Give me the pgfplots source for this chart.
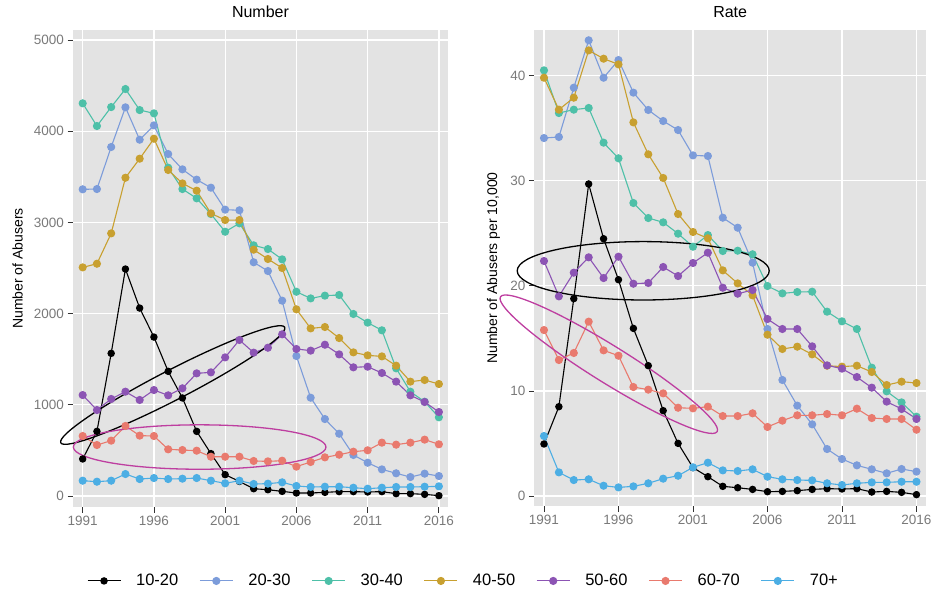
\documentclass[border=0pt]{standalone}
\usepackage{fontspec}
\setmainfont{Liberation Sans}
\usepackage{pgfplots}
\pgfplotsset{compat=1.18}
\usepackage{pgfplotstable}
\usetikzlibrary{shapes.geometric}

\definecolor{c1}{RGB}{0,0,0}
\definecolor{c2}{RGB}{124,156,218}
\definecolor{c3}{RGB}{78,192,168}
\definecolor{c4}{RGB}{200,160,48}
\definecolor{c5}{RGB}{140,84,180}
\definecolor{c6}{RGB}{233,122,110}
\definecolor{c7}{RGB}{76,174,228}
\definecolor{panel}{RGB}{227,227,227}
\definecolor{ell}{RGB}{190,62,160}

\pgfplotstableread{
year a b c d e f g
1991 406 3363 4306 2507 1107 658 168
1992 709 3366 4057 2547 943 559 157
1993 1564 3827 4265 2880 1064 607 168
1994 2489 4262 4463 3490 1144 768 241
1995 2061 3907 4232 3699 1053 662 186
1996 1743 4064 4196 3918 1162 658 197
1997 1367 3750 3600 3575 1104 512 186
1998 1075 3582 3366 3428 1181 504 190
1999 709 3469 3264 3348 1345 497 197
2000 465 3381 3092 3099 1356 431 168
2001 234 3140 2898 3026 1520 431 139
2002 160 3133 2990 3026 1711 431 168
2003 80 2563 2749 2701 1572 384 132
2004 69 2467 2708 2599 1626 380 135
2005 51 2142 2595 2500 1773 387 150
2006 33 1535 2240 2047 1612 322 110
2007 33 1078 2167 1838 1594 373 99
2008 40 844 2197 1853 1659 424 102
2009 48 683 2204 1732 1553 453 102
2010 48 450 1996 1575 1411 486 91
2011 44 365 1901 1542 1418 501 80
2012 48 292 1817 1531 1349 585 91
2013 26 249 1400 1429 1254 563 99
2014 26 208 1144 1254 1104 585 99
2015 18 245 1034 1272 1031 618 102
2016 4 219 863 1228 921 567 106
}\numtab

\pgfplotstableread{
year a b c d e f g
1991 4.95 34.06 40.50 39.80 22.36 15.79 5.71
1992 8.50 34.16 36.44 36.76 19.00 12.94 2.25
1993 18.78 38.85 36.76 37.90 21.25 13.61 1.52
1994 29.69 43.36 36.92 42.40 22.71 16.59 1.59
1995 24.48 39.80 33.62 41.61 20.74 13.86 0.98
1996 20.58 41.48 32.13 41.07 22.77 13.35 0.82
1997 15.95 38.38 27.88 35.55 20.20 10.37 0.92
1998 12.40 36.73 26.45 32.51 20.27 10.12 1.21
1999 8.12 35.68 26.04 30.26 21.79 9.77 1.65
2000 5.01 34.82 24.96 26.83 20.93 8.40 1.93
2001 2.70 32.41 23.72 25.12 22.17 8.34 2.73
2002 1.84 32.35 24.83 24.52 23.15 8.50 3.17
2003 0.92 26.48 23.31 21.47 19.82 7.61 2.44
2004 0.79 25.53 23.34 20.23 19.25 7.61 2.38
2005 0.63 22.20 23.00 19.09 19.60 7.87 2.54
2006 0.41 15.89 19.98 15.35 16.84 6.57 1.84
2007 0.44 11.04 19.28 13.99 15.89 7.17 1.59
2008 0.51 8.60 19.41 14.21 15.89 7.68 1.52
2009 0.63 6.82 19.44 13.48 14.24 7.68 1.49
2010 0.70 4.47 17.54 12.40 12.43 7.80 1.21
2011 0.67 3.52 16.62 12.31 12.12 7.68 1.05
2012 0.70 2.92 15.89 12.40 11.32 8.31 1.21
2013 0.38 2.54 12.21 11.80 10.31 7.42 1.30
2014 0.44 2.16 9.96 10.56 8.98 7.33 1.30
2015 0.35 2.57 8.91 10.88 8.28 7.33 1.36
2016 0.13 2.32 7.55 10.75 7.33 6.31 1.36
}\ratetab

\pgfplotsset{
  ggstyle/.style={
    scale only axis,
    clip=false,
    anchor=south west,
    axis background/.style={fill=panel},
    axis line style={draw=none},
    grid=major,
    major grid style={white, line width=1.3pt},
    tick align=outside,
    tick pos=left,
    major tick length=5.5pt,
    tick style={black!80, line width=0.8pt},
    ticklabel style={font=\fontsize{13.5}{15}\selectfont, text=black!52},
    /pgf/number format/assume math mode=true,
    /pgf/number format/1000 sep={},
    xtick={1991,1996,2001,2006,2011,2016},
    title style={font=\fontsize{16}{18}\selectfont, at={(0.5,1)}, anchor=base, yshift=6.7pt},
    every axis plot/.append style={line width=1.1pt, mark=*, mark size=3.5pt, solid},
    legend image code/.code={
      \draw[mark repeat=2,mark phase=2,##1] plot coordinates {(0pt,0pt) (16.5pt,0pt) (33pt,0pt)};
    },
  },
  s1/.style={color=c1, mark options={fill=c1, draw=c1, scale=0.9}},
  s2/.style={color=c2, mark options={fill=c2, draw=c2}},
  s3/.style={color=c3, mark options={fill=c3, draw=c3}},
  s4/.style={color=c4, mark options={fill=c4, draw=c4}},
  s5/.style={color=c5, mark options={fill=c5, draw=c5}},
  s6/.style={color=c6, mark options={fill=c6, draw=c6}},
  s7/.style={color=c7, mark options={fill=c7, draw=c7}},
}

\begin{document}
\begin{tikzpicture}
\path[use as bounding box] (0pt,0pt) rectangle (934pt,-596pt);

\begin{axis}[ggstyle,
  at={(73pt,-507pt)}, width=375pt, height=477pt,
  xmin=1990.32, xmax=2016.64, ymin=-120.6, ymax=5110,
  ytick={0,1000,2000,3000,4000,5000},
  title={Number},
  ylabel={Number of Abusers},
  every axis y label/.style={at={(axis description cs:-0.148,0.5)}, rotate=90, anchor=center, font=\fontsize{14}{16}\selectfont},
  legend columns=7,
  legend cell align=left,
  legend style={at={(axis description cs:0.0373,-0.155)}, anchor=west, draw=none, fill=none,
    inner sep=0pt, outer sep=0pt, font=\fontsize{16.5}{18}\selectfont,
    nodes={inner sep=0pt},
    /tikz/every odd column/.append style={column sep=15pt},
    /tikz/every even column/.append style={column sep=21pt}},
]
\addplot[s1] table[x=year,y=a] {\numtab};
\addplot[s2] table[x=year,y=b] {\numtab};
\addplot[s3] table[x=year,y=c] {\numtab};
\addplot[s4] table[x=year,y=d] {\numtab};
\addplot[s5] table[x=year,y=e] {\numtab};
\addplot[s6] table[x=year,y=f] {\numtab};
\addplot[s7] table[x=year,y=g] {\numtab};
\legend{10-20,20-30,30-40,40-50,50-60,60-70,70+}
\node[draw=black, line width=1.3pt, ellipse, inner sep=0pt, minimum width=252pt, minimum height=30pt, rotate=27.3] at (axis cs:1997.32,1217) {};
\node[draw=ell, line width=1.3pt, ellipse, inner sep=0pt, minimum width=252.6pt, minimum height=44.4pt] at (axis cs:1999.21,537) {};
\end{axis}

\begin{axis}[ggstyle,
  at={(534.3pt,-506pt)}, width=391.7pt, height=476pt,
  xmin=1990.35, xmax=2016.64, ymin=-0.95, ymax=44.34,
  ytick={0,10,20,30,40},
  title={Rate},
  ylabel={Number of Abusers per 10,000},
  every axis y label/.style={at={(axis description cs:-0.104,0.5)}, rotate=90, anchor=center, font=\fontsize{14}{16}\selectfont},
]
\addplot[s1] table[x=year,y=a] {\ratetab};
\addplot[s2] table[x=year,y=b] {\ratetab};
\addplot[s3] table[x=year,y=c] {\ratetab};
\addplot[s4] table[x=year,y=d] {\ratetab};
\addplot[s5] table[x=year,y=e] {\ratetab};
\addplot[s6] table[x=year,y=f] {\ratetab};
\addplot[s7] table[x=year,y=g] {\ratetab};
\node[draw=black, line width=1.3pt, ellipse, inner sep=0pt, minimum width=252pt, minimum height=58.4pt] at (axis cs:1997.66,21.43) {};
\node[draw=ell, line width=1.3pt, ellipse, inner sep=0pt, minimum width=255.2pt, minimum height=37pt, rotate=-31.9] at (axis cs:1995.35,12.54) {};
\end{axis}
\end{tikzpicture}
\end{document}
